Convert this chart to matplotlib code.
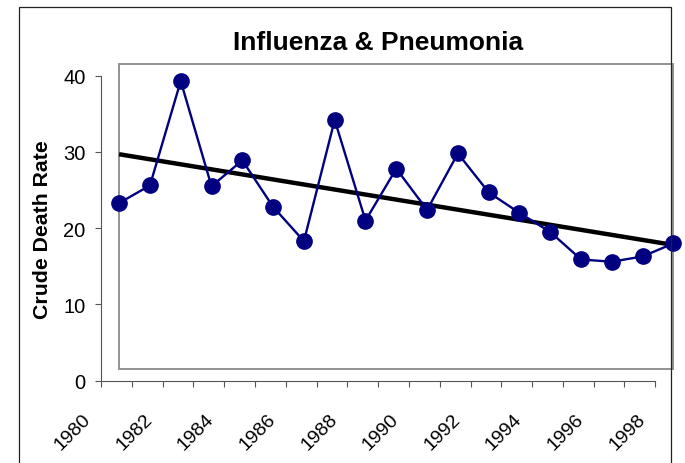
import numpy as np
import matplotlib.pyplot as plt
from matplotlib.patches import Rectangle

plt.rcParams['font.family'] = ['Liberation Sans', 'DejaVu Sans']

# Werte
years = [1981, 1982, 1983, 1984, 1985, 1986, 1987, 1988, 1989, 1990,
         1991, 1992, 1993, 1994, 1995, 1996, 1997, 1998, 1999]
rate = [23.3, 25.6, 39.3, 25.5, 28.9, 22.8, 18.3, 34.2, 21.0, 27.8,
        22.4, 29.8, 24.7, 22.0, 19.5, 15.9, 15.6, 16.3, 18.0]
trend_years = [1981, 1999]
trend_vals = [29.7, 17.8]
label_years = [1980, 1982, 1984, 1986, 1988, 1990, 1992, 1994, 1996, 1998]
yticks = [0, 10, 20, 30, 40]

fig = plt.figure(figsize=(6.85, 4.64), dpi=100)
ax = fig.add_axes([0.1474, 0.1774, 0.8092, 0.6573])

x0 = 1980.41                                                     # Achse beginnt zwischen den Kategorien
ax.set_xlim(x0, x0 + 18)
ax.set_ylim(0, 40)

# graues Rechteck (Plotbereich)
ax.add_patch(Rectangle((1981, 1.5), 18, 40, fill=False, edgecolor='#8a8a8a',
                       linewidth=1.3, clip_on=False, zorder=1))

ax.plot(trend_years, trend_vals, color='black', linewidth=3.2, clip_on=False, zorder=3,
        solid_capstyle='butt')
ax.plot(years, rate, color='#000080', linewidth=1.7, marker='o', markersize=11,
        clip_on=False, zorder=4)

for s in ['top', 'right']:
    ax.spines[s].set_visible(False)
for s in ['left', 'bottom']:
    ax.spines[s].set_color('#555555')
    ax.spines[s].set_linewidth(0.8)

ax.set_yticks(yticks)
ax.set_yticklabels([str(v) for v in yticks], fontsize=14.5)
ax.tick_params(axis='y', direction='out', length=4, width=0.8, color='#555555', pad=7)
ax.set_xticks(np.arange(x0, x0 + 18.5, 1))
ax.set_xticklabels([])
ax.tick_params(axis='x', direction='out', length=4.5, width=0.8, color='#555555')

for yr in label_years:
    ax.text(yr, -4.7, str(yr), rotation=45, rotation_mode='anchor', ha='right', va='center',
            fontsize=14, clip_on=False)

fig.text(378 / 685, 0.9073, 'Influenza & Pneumonia', ha='center', va='center',
         fontsize=19, fontweight='bold')
fig.text(43 / 685, 0.5043, 'Crude Death Rate', ha='center', va='center', rotation=90,
         fontsize=15.3, fontweight='bold')

# äußerer Rahmen
fig.add_artist(Rectangle((19 / 685, -0.1), (670.7 - 19) / 685, 0.9838 + 0.1,
                         transform=fig.transFigure, fill=False, edgecolor='#222222',
                         linewidth=0.9))

plt.savefig('out.png', dpi=100)
